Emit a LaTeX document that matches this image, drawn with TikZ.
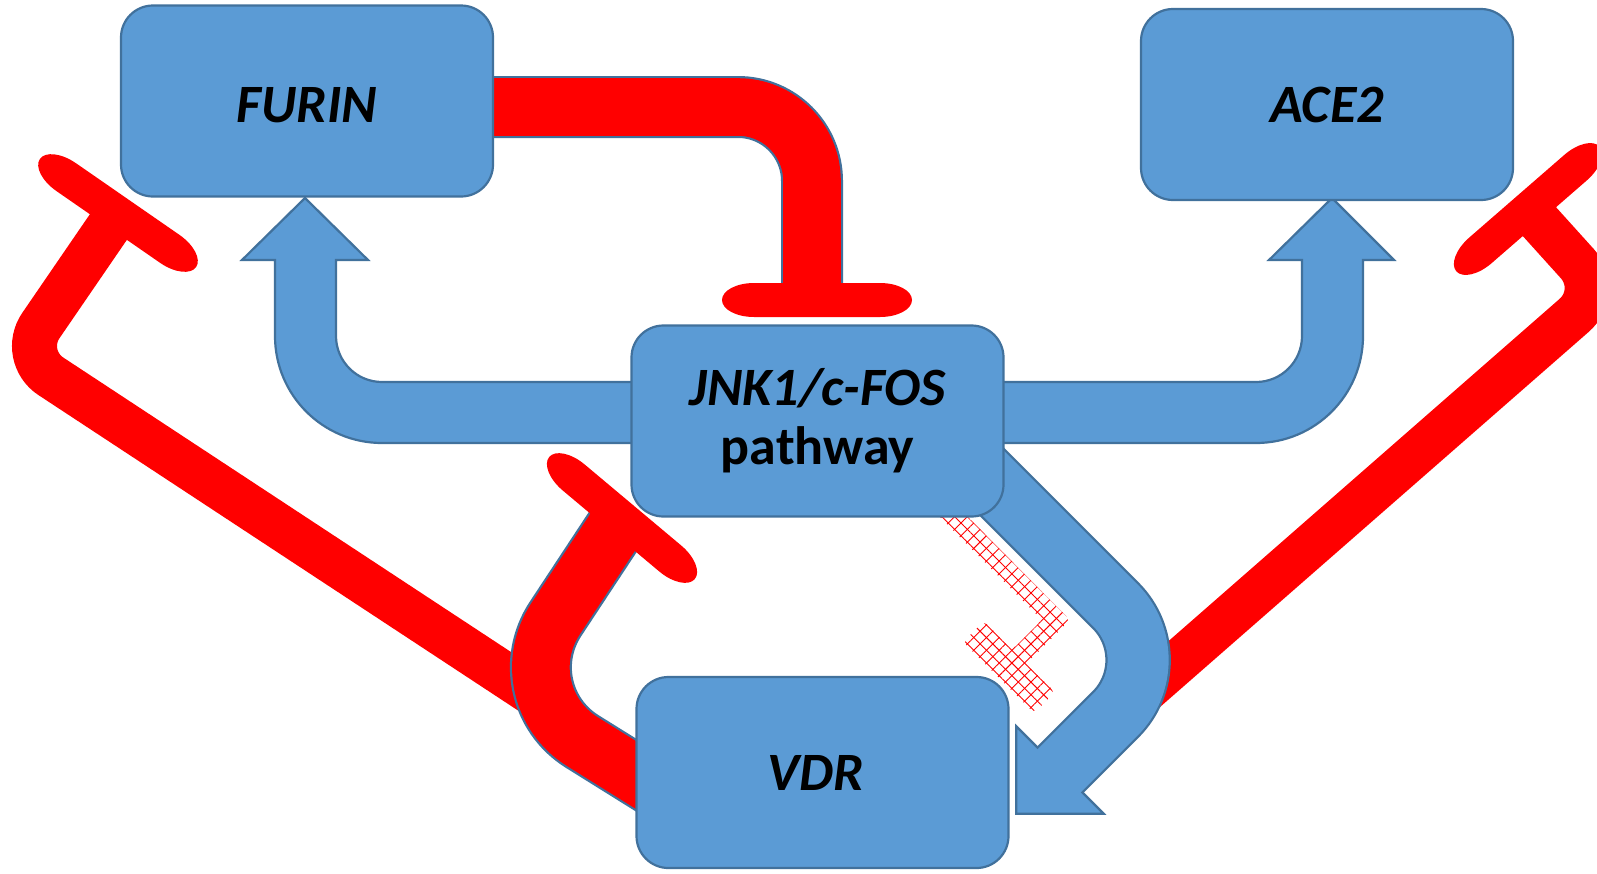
\documentclass[tikz,border=0pt]{standalone}
\usepackage{fontspec}
\setmainfont{Carlito}
\usetikzlibrary{patterns.meta}
\definecolor{boxblue}{HTML}{5B9BD5}
\definecolor{boxline}{HTML}{41719C}
\definecolor{inhred}{HTML}{FF0000}
\tikzset{
  box/.style={draw=boxline, line width=2.2pt, fill=boxblue, rounded corners=32pt,
    inner sep=0pt, minimum width=372pt, minimum height=191pt, align=center,
    font=\fontsize{54}{59}\selectfont\bfseries\itshape},
  blueshape/.style={fill=boxblue, draw=boxline, line width=2.2pt, line join=miter},
  redband/.style={draw=inhred, line cap=butt},
  rimband/.style={draw=boxline, line cap=butt},
  hatchA/.style={pattern={Lines[angle=45,distance=9pt,line width=0.9pt]}, pattern color=inhred},
  hatchB/.style={pattern={Lines[angle=-45,distance=9pt,line width=0.9pt]}, pattern color=inhred},
}
\newcommand{\inhhead}[3]{%
  \fill[inhred, shift={(#1,#2)}, rotate=#3]
    (-63,-17) -- (63,-17) .. controls (80.7,-17) and (95,-9.4) .. (95,0)
    .. controls (95,9.4) and (80.7,17) .. (63,17) -- (-63,17)
    .. controls (-80.7,17) and (-95,9.4) .. (-95,0)
    .. controls (-95,-9.4) and (-80.7,-17) .. (-63,-17) -- cycle;}
\newcommand{\hatchshape}{(956,505) -- (1070,620) -- (1026,664) -- (1055,692) -- (1034,713) -- (963,642)
  -- (984,621) -- (1012,650) -- (1042,620) -- (928,505) -- cycle}
\begin{document}
\begin{tikzpicture}[x=1pt, y=-1pt]
\useasboundingbox (0,0) rectangle (1597,873);
\fill[white] (0,0) rectangle (1597,873);
\clip (0,0) rectangle (1597,873);

% named points of the connectors
\coordinate (lstart) at (540,698);
\coordinate (lcorner) at (20,356);
\coordinate (lhead) at (118,213);
\coordinate (rstart) at (1130,704);
\coordinate (rcorner) at (1602,291);
\coordinate (rhead) at (1528,209);
\coordinate (vstart) at (660,790);
\coordinate (vcorner) at (506,694);
\coordinate (vhead) at (622,518);
\coordinate (fstart) at (470,107);
\coordinate (fcorner) at (812,107);
\coordinate (fhead) at (812,300);
\coordinate (cstart) at (960,450);
\coordinate (ccorner) at (1170,660);
\coordinate (cbase) at (1060,770);
\coordinate (cbasex) at (1057.5,772.5);

% red inhibition connectors (no rim)
\draw[redband, line width=45pt, rounded corners=37pt] (lstart) -- (lcorner) -- (lhead);
\inhhead{118}{213}{-34.7}
\draw[redband, line width=44pt, rounded corners=37pt] (rstart) -- (rcorner) -- (rhead);
\inhhead{1528}{209}{41}

% red inhibition connectors with rim
\draw[rimband, line width=62pt, rounded corners=90pt] (vstart) -- (vcorner) -- (vhead);
\draw[redband, line width=57.6pt, rounded corners=90pt] (vstart) -- (vcorner) -- (vhead);
\inhhead{622}{518}{-40}
\draw[rimband, line width=62pt, rounded corners=74pt] (fstart) -- (fcorner) -- (fhead);
\draw[redband, line width=57.6pt, rounded corners=74pt] (fstart) -- (fcorner) -- (fhead);
\inhhead{817}{300}{0}

% blue arrows
\draw[blueshape] (650,382) -- (382,382) .. controls (356.6,382) and (336,361.4) .. (336,336)
  -- (336,260) -- (368,260) -- (305,198) -- (242,260) -- (275,260) -- (275,336)
  .. controls (275,395.1) and (322.9,443) .. (382,443) -- (650,443) -- cycle;
\draw[blueshape] (985,382) -- (1256,382) .. controls (1281.4,382) and (1302,361.4) .. (1302,336)
  -- (1302,260) -- (1269,260) -- (1332,198) -- (1394,260) -- (1363,260) -- (1363,336)
  .. controls (1363,395.1) and (1315.1,443) .. (1256,443) -- (985,443) -- cycle;
\draw[rimband, line width=65.5pt, rounded corners=77pt] (cstart) -- (ccorner) -- (cbase);
\draw[blueshape] (1016.2,726.2) -- (1016.2,813.8) -- (1103.8,813.8) -- cycle;
\draw[boxblue, line width=61pt, line cap=butt, rounded corners=77pt] (cstart) -- (ccorner) -- (cbasex);

% hatched inhibition
\path[rounded corners=5pt, hatchA] \hatchshape;
\path[rounded corners=5pt, hatchB] \hatchshape;

% boxes
\node[box, text height=42pt, text depth=0pt] (furin) at (307,101) {FURIN};
\node[box] (ace2) at (1327,104.5) {ACE2};
\node[box] (jnk) at (817.5,421) {JNK1/c-FOS\\{\upshape pathway}};
\node[box] (vdr) at (822.5,772.5) {\hspace*{-14pt}VDR};
\end{tikzpicture}
\end{document}
